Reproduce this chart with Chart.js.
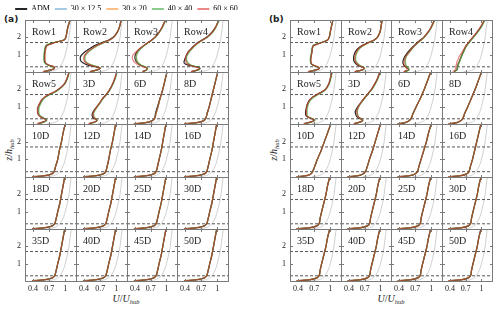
<!DOCTYPE html>
<html>
<head>
<meta charset="utf-8">
<script src="https://cdn.jsdelivr.net/npm/chart.js@4.4.1/dist/chart.umd.min.js"></script>
<style>
body { margin: 0; background: #fff; }
#fig { position: relative; width: 500px; height: 310px; overflow: hidden; font-family: "Liberation Serif", serif; }
#fig canvas { position: absolute; }
.lbl { position: absolute; color: #222; white-space: nowrap; }
.tag { font: bold 9px "DejaVu Sans", sans-serif; }
.axt { font-size: 10px; width: 70px; height: 12px; line-height: 12px; text-align: center; }
.axt sub { font-size: 6.5px; vertical-align: -2px; }
.rot { transform: rotate(-90deg); }
</style>
</head>
<body>
<div id="fig">
  <div class="lbl tag" style="left:4px;top:14px">(a)</div>
  <div class="lbl tag" style="left:269px;top:14px">(b)</div>
  <div class="lbl axt rot" style="left:-26px;top:144px"><i>z</i>/<i>h</i><sub><i>hub</i></sub></div>
  <div class="lbl axt rot" style="left:239px;top:144px"><i>z</i>/<i>h</i><sub><i>hub</i></sub></div>
  <div class="lbl axt" style="left:91px;top:293px"><i>U</i>/<i>U</i><sub><i>hub</i></sub></div>
  <div class="lbl axt" style="left:356px;top:293px"><i>U</i>/<i>U</i><sub><i>hub</i></sub></div>
</div>
<script>
// ---- data ----
var stations = ['Row1', 'Row2', 'Row3', 'Row4', 'Row5', '3D', '6D', '8D', '10D', '12D', '14D', '16D',
                '18D', '20D', '25D', '30D', '35D', '40D', '45D', '50D'];
var seriesNames = ['ADM', '30 \u00d7 12.5', '30 \u00d7 20', '40 \u00d7 40', '60 \u00d7 60'];
var xTicks = [0.4, 0.7, 1];
var yTicks = [1, 2];
var xRange = [0.25, 1.2];
var zRange = [0, 3];
var rotorEdges = [0.3, 1.7];

// inflow profile (grey)
var inflowZ = [0.02, 0.05, 0.1, 0.2, 0.3, 0.5, 0.7, 1.0, 1.5, 2.0, 2.5, 3.0];
var inflowU = [0.66, 0.75, 0.81, 0.87, 0.90, 0.94, 0.97, 1.00, 1.04, 1.07, 1.09, 1.11];

// heights of the near-wake profiles (Row1..Row5, 3D)
var nearZ = [0.02, 0.12, 0.22, 0.3, 0.4, 0.55, 0.7, 0.85, 1.0, 1.2, 1.4, 1.55, 1.7, 1.85, 2.0, 2.3, 2.6, 3.0];
// heights of the far-wake profiles (6D..50D)
var farZ = [0.02, 0.08, 0.18, 0.3, 0.6, 1.0, 1.5, 2.0, 2.5, 3.0];

// panel (a), near wake
var admNearA = [
  [0.60, 0.74, 0.80, 0.78, 0.68, 0.62, 0.61, 0.61, 0.61, 0.62, 0.63, 0.66, 0.80, 0.97, 1.01, 1.03, 1.05, 1.09],
  [0.52, 0.64, 0.70, 0.62, 0.47, 0.37, 0.33, 0.33, 0.36, 0.43, 0.53, 0.62, 0.74, 0.86, 0.94, 1.02, 1.06, 1.09],
  [0.55, 0.62, 0.63, 0.58, 0.50, 0.44, 0.41, 0.40, 0.41, 0.45, 0.52, 0.58, 0.65, 0.72, 0.78, 0.86, 0.92, 0.98],
  [0.52, 0.64, 0.68, 0.62, 0.46, 0.38, 0.39, 0.41, 0.43, 0.47, 0.53, 0.58, 0.64, 0.72, 0.80, 0.90, 0.97, 1.03],
  [0.50, 0.60, 0.65, 0.62, 0.55, 0.50, 0.49, 0.49, 0.50, 0.53, 0.57, 0.62, 0.70, 0.80, 0.88, 0.98, 1.03, 1.07],
  [0.50, 0.60, 0.64, 0.60, 0.56, 0.55, 0.57, 0.60, 0.64, 0.69, 0.73, 0.77, 0.81, 0.85, 0.88, 0.93, 0.97, 1.01]
];
var coarseNearA = [
  [0.60, 0.73, 0.80, 0.79, 0.69, 0.63, 0.62, 0.62, 0.62, 0.63, 0.64, 0.67, 0.81, 0.98, 1.01, 1.03, 1.05, 1.09],
  [0.52, 0.64, 0.70, 0.64, 0.53, 0.43, 0.40, 0.40, 0.42, 0.48, 0.57, 0.65, 0.76, 0.87, 0.95, 1.02, 1.06, 1.09],
  [0.55, 0.62, 0.63, 0.58, 0.50, 0.45, 0.43, 0.42, 0.43, 0.46, 0.52, 0.58, 0.65, 0.72, 0.78, 0.86, 0.92, 0.98],
  [0.52, 0.64, 0.67, 0.60, 0.50, 0.44, 0.42, 0.42, 0.44, 0.48, 0.54, 0.59, 0.65, 0.73, 0.81, 0.91, 0.97, 1.03],
  [0.50, 0.60, 0.65, 0.62, 0.55, 0.50, 0.49, 0.49, 0.50, 0.53, 0.57, 0.62, 0.70, 0.80, 0.88, 0.98, 1.03, 1.07],
  [0.50, 0.60, 0.64, 0.61, 0.58, 0.57, 0.58, 0.61, 0.64, 0.69, 0.73, 0.77, 0.81, 0.85, 0.88, 0.93, 0.97, 1.01]
];
var g40NearA = [
  [0.60, 0.72, 0.79, 0.77, 0.67, 0.61, 0.60, 0.60, 0.60, 0.61, 0.62, 0.65, 0.79, 0.97, 1.01, 1.03, 1.05, 1.09],
  [0.52, 0.65, 0.71, 0.66, 0.55, 0.45, 0.42, 0.42, 0.44, 0.50, 0.59, 0.67, 0.78, 0.88, 0.95, 1.02, 1.06, 1.09],
  [0.55, 0.63, 0.64, 0.60, 0.52, 0.46, 0.44, 0.43, 0.44, 0.47, 0.53, 0.59, 0.66, 0.73, 0.79, 0.87, 0.93, 0.99],
  [0.53, 0.65, 0.68, 0.61, 0.51, 0.45, 0.43, 0.43, 0.45, 0.49, 0.55, 0.60, 0.66, 0.74, 0.82, 0.92, 0.98, 1.04],
  [0.51, 0.61, 0.66, 0.63, 0.56, 0.52, 0.51, 0.51, 0.52, 0.55, 0.59, 0.64, 0.72, 0.82, 0.89, 0.99, 1.04, 1.08],
  [0.51, 0.61, 0.65, 0.62, 0.59, 0.58, 0.59, 0.62, 0.65, 0.70, 0.74, 0.78, 0.82, 0.86, 0.89, 0.94, 0.98, 1.02]
];
var g60NearA = [
  [0.58, 0.72, 0.80, 0.79, 0.69, 0.63, 0.62, 0.62, 0.62, 0.63, 0.64, 0.67, 0.81, 0.98, 1.01, 1.03, 1.05, 1.09],
  [0.50, 0.64, 0.70, 0.63, 0.52, 0.43, 0.40, 0.40, 0.42, 0.48, 0.57, 0.65, 0.77, 0.88, 0.95, 1.02, 1.06, 1.09],
  [0.54, 0.62, 0.63, 0.57, 0.47, 0.40, 0.36, 0.35, 0.37, 0.43, 0.51, 0.58, 0.65, 0.72, 0.78, 0.86, 0.92, 0.98],
  [0.51, 0.63, 0.66, 0.58, 0.47, 0.42, 0.41, 0.41, 0.43, 0.47, 0.53, 0.59, 0.65, 0.73, 0.81, 0.91, 0.97, 1.03],
  [0.47, 0.58, 0.64, 0.61, 0.54, 0.49, 0.48, 0.48, 0.49, 0.52, 0.56, 0.61, 0.69, 0.79, 0.87, 0.98, 1.03, 1.07],
  [0.48, 0.59, 0.64, 0.61, 0.58, 0.57, 0.58, 0.61, 0.64, 0.69, 0.73, 0.77, 0.81, 0.85, 0.88, 0.93, 0.97, 1.01]
];

// panel (b), near wake
var admNearB = [
  [0.60, 0.74, 0.80, 0.76, 0.67, 0.64, 0.63, 0.64, 0.65, 0.66, 0.67, 0.70, 0.84, 0.95, 0.98, 1.00, 1.02, 1.05],
  [0.52, 0.66, 0.69, 0.63, 0.56, 0.51, 0.49, 0.49, 0.50, 0.53, 0.59, 0.67, 0.77, 0.88, 0.94, 0.99, 1.01, 1.03],
  [0.50, 0.58, 0.56, 0.52, 0.49, 0.47, 0.48, 0.50, 0.53, 0.58, 0.64, 0.69, 0.74, 0.80, 0.86, 0.94, 1.00, 1.06],
  [0.48, 0.53, 0.54, 0.54, 0.55, 0.57, 0.59, 0.61, 0.63, 0.66, 0.69, 0.72, 0.76, 0.80, 0.84, 0.92, 0.99, 1.06],
  [0.52, 0.64, 0.70, 0.66, 0.58, 0.54, 0.54, 0.55, 0.56, 0.58, 0.62, 0.67, 0.75, 0.84, 0.91, 0.97, 1.00, 1.03],
  [0.50, 0.62, 0.66, 0.62, 0.56, 0.53, 0.52, 0.54, 0.57, 0.62, 0.67, 0.71, 0.75, 0.79, 0.83, 0.89, 0.94, 0.99]
];
var coarseNearB = [
  [0.60, 0.73, 0.80, 0.77, 0.68, 0.64, 0.64, 0.64, 0.65, 0.66, 0.67, 0.70, 0.84, 0.95, 0.98, 1.00, 1.02, 1.05],
  [0.52, 0.66, 0.69, 0.65, 0.59, 0.54, 0.52, 0.52, 0.53, 0.56, 0.61, 0.68, 0.78, 0.88, 0.94, 0.99, 1.01, 1.03],
  [0.50, 0.58, 0.57, 0.54, 0.52, 0.51, 0.51, 0.52, 0.55, 0.60, 0.65, 0.70, 0.75, 0.81, 0.86, 0.94, 1.00, 1.06],
  [0.48, 0.53, 0.54, 0.54, 0.55, 0.57, 0.59, 0.61, 0.63, 0.66, 0.69, 0.72, 0.76, 0.80, 0.84, 0.92, 0.99, 1.06],
  [0.52, 0.65, 0.71, 0.67, 0.59, 0.56, 0.56, 0.56, 0.57, 0.59, 0.63, 0.68, 0.76, 0.85, 0.91, 0.97, 1.00, 1.03],
  [0.50, 0.62, 0.66, 0.63, 0.58, 0.56, 0.55, 0.56, 0.58, 0.62, 0.67, 0.71, 0.75, 0.79, 0.83, 0.89, 0.94, 0.99]
];
var g40NearB = [
  [0.60, 0.72, 0.79, 0.76, 0.67, 0.63, 0.63, 0.63, 0.64, 0.65, 0.66, 0.69, 0.83, 0.95, 0.98, 1.00, 1.02, 1.05],
  [0.52, 0.66, 0.70, 0.66, 0.60, 0.55, 0.53, 0.53, 0.54, 0.57, 0.62, 0.69, 0.79, 0.89, 0.94, 0.99, 1.01, 1.03],
  [0.51, 0.59, 0.58, 0.55, 0.53, 0.52, 0.52, 0.53, 0.56, 0.61, 0.66, 0.71, 0.76, 0.82, 0.87, 0.95, 1.01, 1.07],
  [0.49, 0.54, 0.55, 0.55, 0.56, 0.58, 0.60, 0.62, 0.64, 0.67, 0.70, 0.73, 0.77, 0.81, 0.85, 0.93, 1.00, 1.07],
  [0.53, 0.66, 0.72, 0.68, 0.60, 0.57, 0.57, 0.57, 0.58, 0.60, 0.64, 0.70, 0.78, 0.86, 0.92, 0.98, 1.01, 1.04],
  [0.51, 0.63, 0.67, 0.64, 0.59, 0.57, 0.56, 0.57, 0.59, 0.63, 0.68, 0.72, 0.76, 0.80, 0.84, 0.90, 0.95, 1.00]
];
var g60NearB = [
  [0.58, 0.73, 0.80, 0.77, 0.68, 0.64, 0.64, 0.64, 0.65, 0.66, 0.67, 0.70, 0.84, 0.95, 0.98, 1.00, 1.02, 1.05],
  [0.50, 0.65, 0.69, 0.64, 0.58, 0.53, 0.51, 0.51, 0.52, 0.55, 0.60, 0.67, 0.78, 0.88, 0.94, 0.99, 1.01, 1.03],
  [0.48, 0.55, 0.54, 0.51, 0.49, 0.49, 0.50, 0.52, 0.55, 0.60, 0.65, 0.70, 0.75, 0.81, 0.86, 0.94, 1.00, 1.06],
  [0.45, 0.50, 0.51, 0.51, 0.52, 0.53, 0.55, 0.57, 0.60, 0.64, 0.68, 0.71, 0.75, 0.79, 0.83, 0.91, 0.98, 1.05],
  [0.50, 0.64, 0.70, 0.66, 0.58, 0.55, 0.55, 0.55, 0.56, 0.58, 0.62, 0.67, 0.75, 0.84, 0.91, 0.97, 1.00, 1.03],
  [0.49, 0.62, 0.66, 0.63, 0.58, 0.56, 0.55, 0.56, 0.58, 0.62, 0.67, 0.71, 0.75, 0.79, 0.83, 0.89, 0.94, 0.99]
];

// panel (a), far wake (6D..50D)
var admFarA = [
  [0.46, 0.62, 0.72, 0.77, 0.79, 0.83, 0.88, 0.93, 0.97, 1.01],
  [0.46, 0.63, 0.74, 0.78, 0.81, 0.85, 0.89, 0.93, 0.97, 1.01],
  [0.46, 0.64, 0.75, 0.79, 0.82, 0.86, 0.89, 0.93, 0.96, 1.00],
  [0.46, 0.64, 0.76, 0.80, 0.83, 0.86, 0.89, 0.93, 0.96, 0.99],
  [0.46, 0.64, 0.76, 0.80, 0.83, 0.86, 0.90, 0.93, 0.96, 0.99],
  [0.46, 0.64, 0.76, 0.80, 0.83, 0.86, 0.90, 0.93, 0.96, 0.99],
  [0.46, 0.64, 0.76, 0.80, 0.83, 0.86, 0.90, 0.93, 0.96, 0.99],
  [0.46, 0.64, 0.76, 0.80, 0.83, 0.86, 0.90, 0.93, 0.96, 0.99],
  [0.46, 0.64, 0.76, 0.80, 0.83, 0.86, 0.90, 0.93, 0.96, 0.99],
  [0.46, 0.64, 0.76, 0.80, 0.83, 0.86, 0.90, 0.93, 0.96, 0.99],
  [0.46, 0.64, 0.76, 0.80, 0.83, 0.86, 0.90, 0.93, 0.96, 0.99],
  [0.46, 0.64, 0.76, 0.80, 0.83, 0.86, 0.90, 0.93, 0.96, 0.99],
  [0.46, 0.64, 0.76, 0.80, 0.83, 0.86, 0.90, 0.93, 0.96, 0.99],
  [0.46, 0.64, 0.76, 0.80, 0.83, 0.86, 0.90, 0.93, 0.96, 0.99]
];
var lesFarA = [
  [0.38, 0.60, 0.72, 0.77, 0.80, 0.84, 0.88, 0.93, 0.97, 1.01],
  [0.38, 0.61, 0.74, 0.78, 0.81, 0.85, 0.89, 0.93, 0.97, 1.01],
  [0.38, 0.62, 0.75, 0.79, 0.82, 0.86, 0.89, 0.93, 0.96, 1.00],
  [0.38, 0.62, 0.76, 0.80, 0.83, 0.86, 0.89, 0.93, 0.96, 0.99],
  [0.38, 0.62, 0.76, 0.80, 0.83, 0.86, 0.90, 0.93, 0.96, 0.99],
  [0.38, 0.62, 0.76, 0.80, 0.83, 0.86, 0.90, 0.93, 0.96, 0.99],
  [0.38, 0.62, 0.76, 0.80, 0.83, 0.86, 0.90, 0.93, 0.96, 0.99],
  [0.38, 0.62, 0.76, 0.80, 0.83, 0.86, 0.90, 0.93, 0.96, 0.99],
  [0.38, 0.62, 0.76, 0.80, 0.83, 0.86, 0.90, 0.93, 0.96, 0.99],
  [0.38, 0.62, 0.76, 0.80, 0.83, 0.86, 0.90, 0.93, 0.96, 0.99],
  [0.38, 0.62, 0.76, 0.80, 0.83, 0.86, 0.90, 0.93, 0.96, 0.99],
  [0.38, 0.62, 0.76, 0.80, 0.83, 0.86, 0.90, 0.93, 0.96, 0.99],
  [0.38, 0.62, 0.76, 0.80, 0.83, 0.86, 0.90, 0.93, 0.96, 0.99],
  [0.38, 0.62, 0.76, 0.80, 0.83, 0.86, 0.90, 0.93, 0.96, 0.99]
];

// panel (b), far wake (6D..50D)
var admFarB = [
  [0.44, 0.52, 0.58, 0.62, 0.66, 0.72, 0.80, 0.87, 0.93, 0.99],
  [0.44, 0.54, 0.60, 0.64, 0.68, 0.74, 0.81, 0.88, 0.94, 1.00],
  [0.44, 0.57, 0.64, 0.67, 0.71, 0.76, 0.83, 0.89, 0.95, 1.01],
  [0.44, 0.59, 0.67, 0.71, 0.75, 0.79, 0.85, 0.90, 0.95, 1.00],
  [0.44, 0.61, 0.70, 0.74, 0.77, 0.81, 0.86, 0.91, 0.95, 1.00],
  [0.44, 0.62, 0.72, 0.76, 0.79, 0.83, 0.87, 0.91, 0.95, 0.99],
  [0.44, 0.64, 0.75, 0.79, 0.81, 0.84, 0.88, 0.92, 0.95, 0.99],
  [0.44, 0.64, 0.75, 0.79, 0.81, 0.84, 0.88, 0.92, 0.95, 0.99],
  [0.44, 0.64, 0.75, 0.79, 0.81, 0.84, 0.88, 0.92, 0.95, 0.99],
  [0.44, 0.64, 0.75, 0.79, 0.81, 0.84, 0.88, 0.92, 0.95, 0.99],
  [0.44, 0.64, 0.75, 0.79, 0.81, 0.84, 0.88, 0.92, 0.95, 0.99],
  [0.44, 0.64, 0.75, 0.79, 0.81, 0.84, 0.88, 0.92, 0.95, 0.99],
  [0.44, 0.64, 0.75, 0.79, 0.81, 0.84, 0.88, 0.92, 0.95, 0.99],
  [0.44, 0.64, 0.75, 0.79, 0.81, 0.84, 0.88, 0.92, 0.95, 0.99]
];
var lesFarB = [
  [0.37, 0.50, 0.58, 0.62, 0.66, 0.72, 0.80, 0.87, 0.93, 0.99],
  [0.37, 0.52, 0.60, 0.64, 0.68, 0.74, 0.81, 0.88, 0.94, 1.00],
  [0.37, 0.55, 0.64, 0.67, 0.71, 0.76, 0.83, 0.89, 0.95, 1.01],
  [0.37, 0.57, 0.67, 0.71, 0.75, 0.79, 0.85, 0.90, 0.95, 1.00],
  [0.37, 0.59, 0.70, 0.74, 0.77, 0.81, 0.86, 0.91, 0.95, 1.00],
  [0.37, 0.60, 0.72, 0.76, 0.79, 0.83, 0.87, 0.91, 0.95, 0.99],
  [0.37, 0.62, 0.75, 0.79, 0.81, 0.84, 0.88, 0.92, 0.95, 0.99],
  [0.37, 0.62, 0.75, 0.79, 0.81, 0.84, 0.88, 0.92, 0.95, 0.99],
  [0.37, 0.62, 0.75, 0.79, 0.81, 0.84, 0.88, 0.92, 0.95, 0.99],
  [0.37, 0.62, 0.75, 0.79, 0.81, 0.84, 0.88, 0.92, 0.95, 0.99],
  [0.37, 0.62, 0.75, 0.79, 0.81, 0.84, 0.88, 0.92, 0.95, 0.99],
  [0.37, 0.62, 0.75, 0.79, 0.81, 0.84, 0.88, 0.92, 0.95, 0.99],
  [0.37, 0.62, 0.75, 0.79, 0.81, 0.84, 0.88, 0.92, 0.95, 0.99],
  [0.37, 0.62, 0.75, 0.79, 0.81, 0.84, 0.88, 0.92, 0.95, 0.99]
];

// ---- styles / layout ----
var seriesColors = ['rgba(0,0,0,0.85)', 'rgba(31,119,180,0.4)', 'rgba(255,127,14,0.5)',
                    'rgba(44,160,44,0.55)', 'rgba(214,39,40,0.55)'];
var inflowColor = '#c4c4c4';
var rotorColor = '#444';
var frameColor = '#7a7a7a';
var panels = [{left: 25, right: 228}, {left: 290, right: 492}];
var rowEdges = [20, 72, 124, 177, 229, 281];
var LM = 16, BM = 14;

Chart.defaults.animation = false;
Chart.defaults.font.family = '"Liberation Serif", serif';
Chart.defaults.color = '#222';

var fig = document.getElementById('fig');

function addCanvas(left, top, w, h) {
    var c = document.createElement('canvas');
    c.width = w;
    c.height = h;
    c.style.left = left + 'px';
    c.style.top = top + 'px';
    c.style.width = w + 'px';
    c.style.height = h + 'px';
    fig.appendChild(c);
    return c;
}

function toPoints(zs, us) {
    return zs.map(function (z, i) { return {x: us[i], y: z}; });
}

// box, inward ticks and station name
var framePlugin = {
    id: 'frame',
    afterDatasetsDraw: function (chart, args, opts) {
        var ctx = chart.ctx, a = chart.chartArea;
        var sx = chart.scales.x, sy = chart.scales.y;
        ctx.save();
        ctx.strokeStyle = frameColor;
        ctx.lineWidth = 1;
        ctx.strokeRect(a.left + 0.5, a.top + 0.5, a.right - a.left, a.bottom - a.top);
        ctx.beginPath();
        xTicks.forEach(function (v) {
            var px = Math.round(sx.getPixelForValue(v)) + 0.5;
            ctx.moveTo(px, a.bottom + 0.5); ctx.lineTo(px, a.bottom - 2);
            ctx.moveTo(px, a.top + 0.5); ctx.lineTo(px, a.top + 3);
        });
        yTicks.forEach(function (v) {
            var py = Math.round(sy.getPixelForValue(v)) + 0.5;
            ctx.moveTo(a.left + 0.5, py); ctx.lineTo(a.left + 3, py);
            ctx.moveTo(a.right + 0.5, py); ctx.lineTo(a.right - 2, py);
        });
        ctx.stroke();
        ctx.font = '10px "Liberation Serif"';
        ctx.fillStyle = '#222';
        ctx.textBaseline = 'middle';
        ctx.fillText(opts.label, a.left + 7, a.top + 12.5);
        ctx.restore();
    }
};

function drawSubplot(x0, x1, y0, y1, name, zs, profiles, showX, showY) {
    var w = x1 - x0, h = y1 - y0;
    var canvas = addCanvas(x0 - LM, y0 - 1, w + LM + 1, h + BM + 1);
    // lower "order" is drawn on top: 60x60 on top, inflow and rotor lines underneath
    var datasets = [{
        data: toPoints(inflowZ, inflowU), borderColor: inflowColor, borderWidth: 0.8,
        pointRadius: 0, cubicInterpolationMode: 'monotone', order: 7
    }];
    rotorEdges.forEach(function (z) {
        datasets.push({
            data: [{x: xRange[0], y: z}, {x: xRange[1], y: z}], borderColor: rotorColor,
            borderWidth: 0.9, borderDash: [3, 2], pointRadius: 0, tension: 0, order: 6
        });
    });
    profiles.forEach(function (u, k) {
        datasets.push({
            data: toPoints(zs, u), borderColor: seriesColors[k], borderWidth: 1.2,
            pointRadius: 0, cubicInterpolationMode: 'monotone', order: 4 - k
        });
    });
    new Chart(canvas, {
        type: 'line',
        data: {datasets: datasets},
        options: {
            responsive: false,
            devicePixelRatio: 1,
            indexAxis: 'y',
            layout: {padding: {top: 1, right: 1, left: 0, bottom: 0}},
            plugins: {legend: {display: false}, tooltip: {enabled: false}, frame: {label: name}},
            scales: {
                x: {
                    type: 'linear', position: 'bottom', min: xRange[0], max: xRange[1],
                    afterBuildTicks: function (s) { s.ticks = xTicks.map(function (v) { return {value: v}; }); },
                    afterFit: function (s) { s.height = BM; s.paddingLeft = 0; s.paddingRight = 0; },
                    ticks: {display: showX, font: {size: 8}, padding: 3, maxRotation: 0, autoSkip: false,
                            callback: function (v) { return String(v); }},
                    grid: {display: false, drawTicks: false}, border: {display: false}
                },
                y: {
                    type: 'linear', position: 'left', min: zRange[0], max: zRange[1],
                    afterBuildTicks: function (s) { s.ticks = yTicks.map(function (v) { return {value: v}; }); },
                    afterFit: function (s) { s.width = LM; s.paddingTop = 0; s.paddingBottom = 0; },
                    ticks: {display: showY, font: {size: 8}, padding: 4, autoSkip: false,
                            callback: function (v) { return String(v); }},
                    grid: {display: false, drawTicks: false}, border: {display: false}
                }
            }
        },
        plugins: [framePlugin]
    });
}

var nearSets = [[admNearA, coarseNearA, coarseNearA, g40NearA, g60NearA],
                [admNearB, coarseNearB, coarseNearB, g40NearB, g60NearB]];
var farSets = [[admFarA, lesFarA, lesFarA, lesFarA, lesFarA],
               [admFarB, lesFarB, lesFarB, lesFarB, lesFarB]];

panels.forEach(function (p, pi) {
    var cw = (p.right - p.left) / 4;
    stations.forEach(function (name, si) {
        var r = Math.floor(si / 4), c = si % 4;
        var x0 = Math.round(p.left + c * cw), x1 = Math.round(p.left + (c + 1) * cw);
        var near = si < 6;
        var sets = near ? nearSets[pi] : farSets[pi];
        var idx = near ? si : si - 6;
        var profiles = sets.map(function (s) { return s[idx]; });
        drawSubplot(x0, x1, rowEdges[r], rowEdges[r + 1], name, near ? nearZ : farZ,
                    profiles, r === 4, c === 0);
    });
});

// legend
var legendCanvas = addCanvas(0, 0, 253, 20);
new Chart(legendCanvas, {
    type: 'line',
    data: {
        datasets: seriesNames.map(function (n, i) {
            return {label: n, data: [], borderColor: seriesColors[i], backgroundColor: seriesColors[i]};
        })
    },
    options: {
        responsive: false,
        devicePixelRatio: 1,
        layout: {padding: 0},
        scales: {x: {display: false}, y: {display: false}},
        plugins: {
            tooltip: {enabled: false},
            legend: {
                display: true, position: 'top',
                labels: {
                    boxWidth: 12, boxHeight: 2, padding: 5, font: {size: 8}, color: '#222',
                    generateLabels: function (chart) {
                        return chart.data.datasets.map(function (d, i) {
                            return {text: d.label, fillStyle: d.borderColor, strokeStyle: d.borderColor,
                                    lineWidth: 0, hidden: false, datasetIndex: i};
                        });
                    }
                }
            }
        }
    }
});
</script>
</body>
</html>
